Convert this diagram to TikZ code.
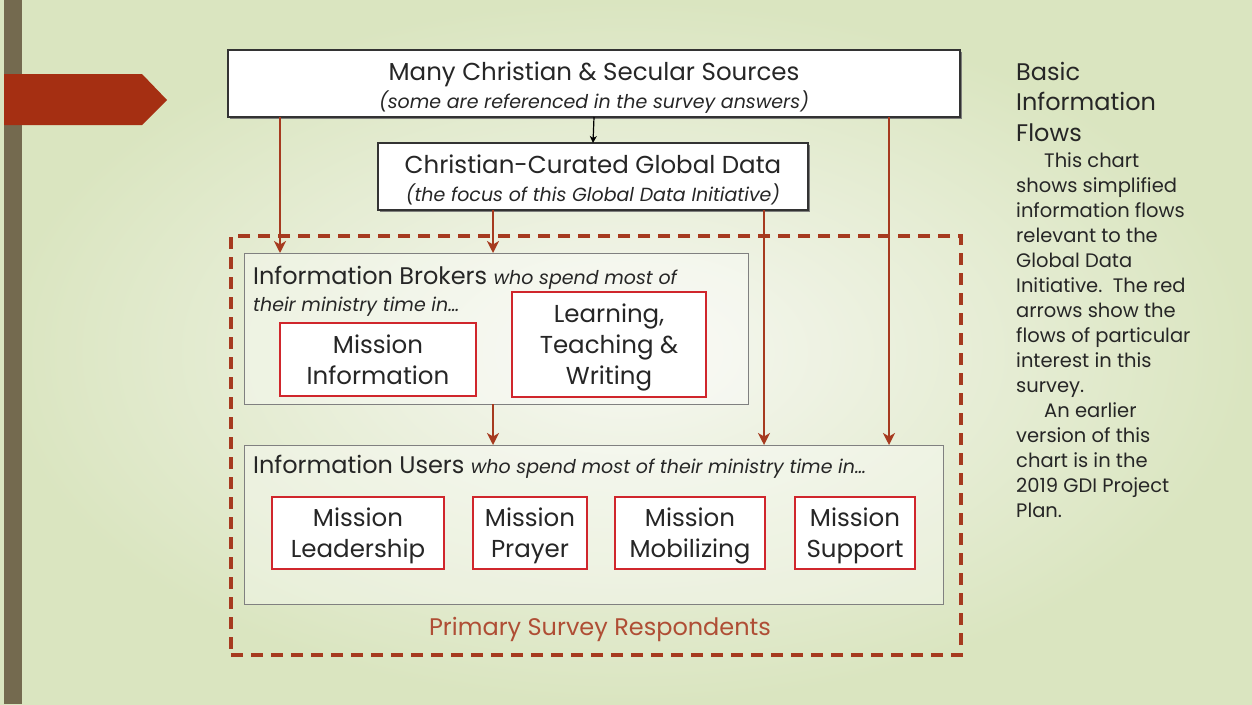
\documentclass[tikz,border=0pt]{standalone}
\usepackage{fontspec}
\setmainfont{Poppins}
\usetikzlibrary{arrows.meta,positioning,shadows}
\definecolor{flowred}{HTML}{A63A1F}
\definecolor{boxred}{HTML}{D0262C}
\definecolor{ink}{HTML}{262626}
\definecolor{barbrown}{HTML}{746A4F}
\definecolor{tagred}{HTML}{A52F12}
\definecolor{bgout}{HTML}{DAE5C0}
\definecolor{bgin}{HTML}{F7F8F2}
% struts that keep box texts on the same baselines
\newcommand{\hiline}[1][24pt]{\rule{0pt}{#1}}
\newcommand{\loline}{\rule[-6pt]{0pt}{0pt}}

\begin{document}
\begin{tikzpicture}[x=1pt, y=-1pt, font=\color{ink},
  srcbox/.style={draw=black!80, fill=white, line width=1.3pt, inner sep=0pt, outer sep=0pt, align=center,
    font=\fontsize{24.5}{28}\selectfont\color{ink},
    drop shadow={shadow xshift=2pt, shadow yshift=-2pt, fill=black!55, opacity=0.9}},
  groupbox/.style={draw=black!50, fill=white, fill opacity=0.35, line width=1pt, inner sep=0pt, outer sep=0pt},
  rolebox/.style={draw=boxred, fill=white, line width=1.6pt, inner sep=0pt, outer sep=0pt, align=center,
    font=\fontsize{24.5}{31}\selectfont\color{ink}},
  flow/.style={draw=flowred, line width=2.8pt, -{Stealth[length=12pt, width=12pt, inset=3.5pt]}}]
\useasboundingbox (0,0) rectangle (1252,704);
% slide background
\shade[inner color=bgin, outer color=bgout] (0,0) rectangle (1252,704);
\fill[barbrown] (4,0) rectangle (22,704);
\fill[tagred] (4,74) -- (142,74) -- (167,100) -- (142,125) -- (4,125) -- cycle;

% boxes
\node[srcbox, minimum width=732pt, minimum height=67pt] (sources) at (594,83.5)
  {\hiline[28pt]Many Christian \& Secular Sources\\
   {\fontsize{19}{28}\selectfont\itshape (some are referenced in the survey answers)}\loline};
\node[srcbox, minimum width=430pt, minimum height=67pt] (curated) at (593,176.5)
  {\hiline[28pt]Christian-Curated Global Data\\
   {\fontsize{19}{28}\selectfont\itshape (the focus of this Global Data Initiative)}\loline};
\node[draw=flowred, line width=3.2pt, dash pattern=on 12pt off 8pt, minimum width=730pt, minimum height=419pt,
  inner sep=0pt, outer sep=0pt] (respondents) at (596,445.5) {};
\node[groupbox, minimum width=504pt, minimum height=151pt] (brokers) at (496,328.5) {};
\node[groupbox, minimum width=699pt, minimum height=159pt] (users) at (593.5,524.5) {};

\node[anchor=north west, align=left, inner sep=0pt, font=\fontsize{24}{27}\selectfont\color{ink}] (brokerstext) at (253,266)
  {Information Brokers {\fontsize{19}{27}\selectfont\itshape who spend most of}\\
   {\fontsize{19}{27}\selectfont\itshape their ministry time in…}};
\node[anchor=west, inner sep=0pt, font=\fontsize{24}{27}\selectfont\color{ink}] (userstext) at (253,467)
  {Information Users {\fontsize{19}{27}\selectfont\itshape who spend most of their ministry time in…}};

\node[rolebox, minimum width=196pt, minimum height=73pt] (missinfo) at (378,359.5) {\hiline Mission\\Information\loline};
\node[rolebox, minimum width=194pt, minimum height=105pt] (learning) at (609,344.5) {\hiline Learning,\\Teaching \&\\Writing\loline};
\node[rolebox, minimum width=172pt, minimum height=72pt] (leadership) at (358,533) {\hiline Mission\\Leadership\loline};
\node[rolebox, minimum width=114pt, minimum height=72pt] (prayer) at (530,533) {\hiline Mission\\Prayer\loline};
\node[rolebox, minimum width=150pt, minimum height=72pt] (mobilizing) at (690,533) {\hiline Mission\\Mobilizing\loline};
\node[rolebox, minimum width=120pt, minimum height=72pt] (support) at (855,533) {\hiline Mission\\Support\loline};

\node[font=\fontsize{24}{28}\selectfont\color{flowred!90!white}] (primary) at (600,629) {Primary Survey Respondents};

% flows
\coordinate (xa) at (280,0);
\coordinate (xb) at (493,0);
\coordinate (xc) at (764,0);
\coordinate (xd) at (889,0);
\draw[black, line width=1.2pt, -{Stealth[length=7pt, width=7pt, inset=2pt]}] (sources.south) -- (curated.north);
\draw[flow] (xa |- sources.south) -- (xa |- brokers.north);
\draw[flow] (xb |- curated.south) -- (xb |- brokers.north);
\draw[flow] (xc |- curated.south) -- (xc |- users.north);
\draw[flow] (xd |- sources.south) -- (xd |- users.north);
\draw[flow] (xb |- brokers.south) -- (xb |- users.north);

% side note
\node[anchor=north west, align=left, inner sep=0pt, font=\fontsize{24}{30.5}\selectfont\color{ink}] (title) at (1016,62)
  {Basic\\Information\\Flows};
\node[align=left, inner sep=0pt, below=11pt of title.south west, anchor=north west,
  font=\fontsize{19.5}{25}\selectfont\color{ink}] (note)
  {\hspace*{28pt}This chart\\shows simplified\\information flows\\relevant to the\\Global Data\\Initiative.\ \ The red\\
   arrows show the\\flows of particular\\interest in this\\survey.\\\hspace*{28pt}An earlier\\version of this\\
   chart is in the\\2019 GDI Project\\Plan.};
\end{tikzpicture}
\end{document}
